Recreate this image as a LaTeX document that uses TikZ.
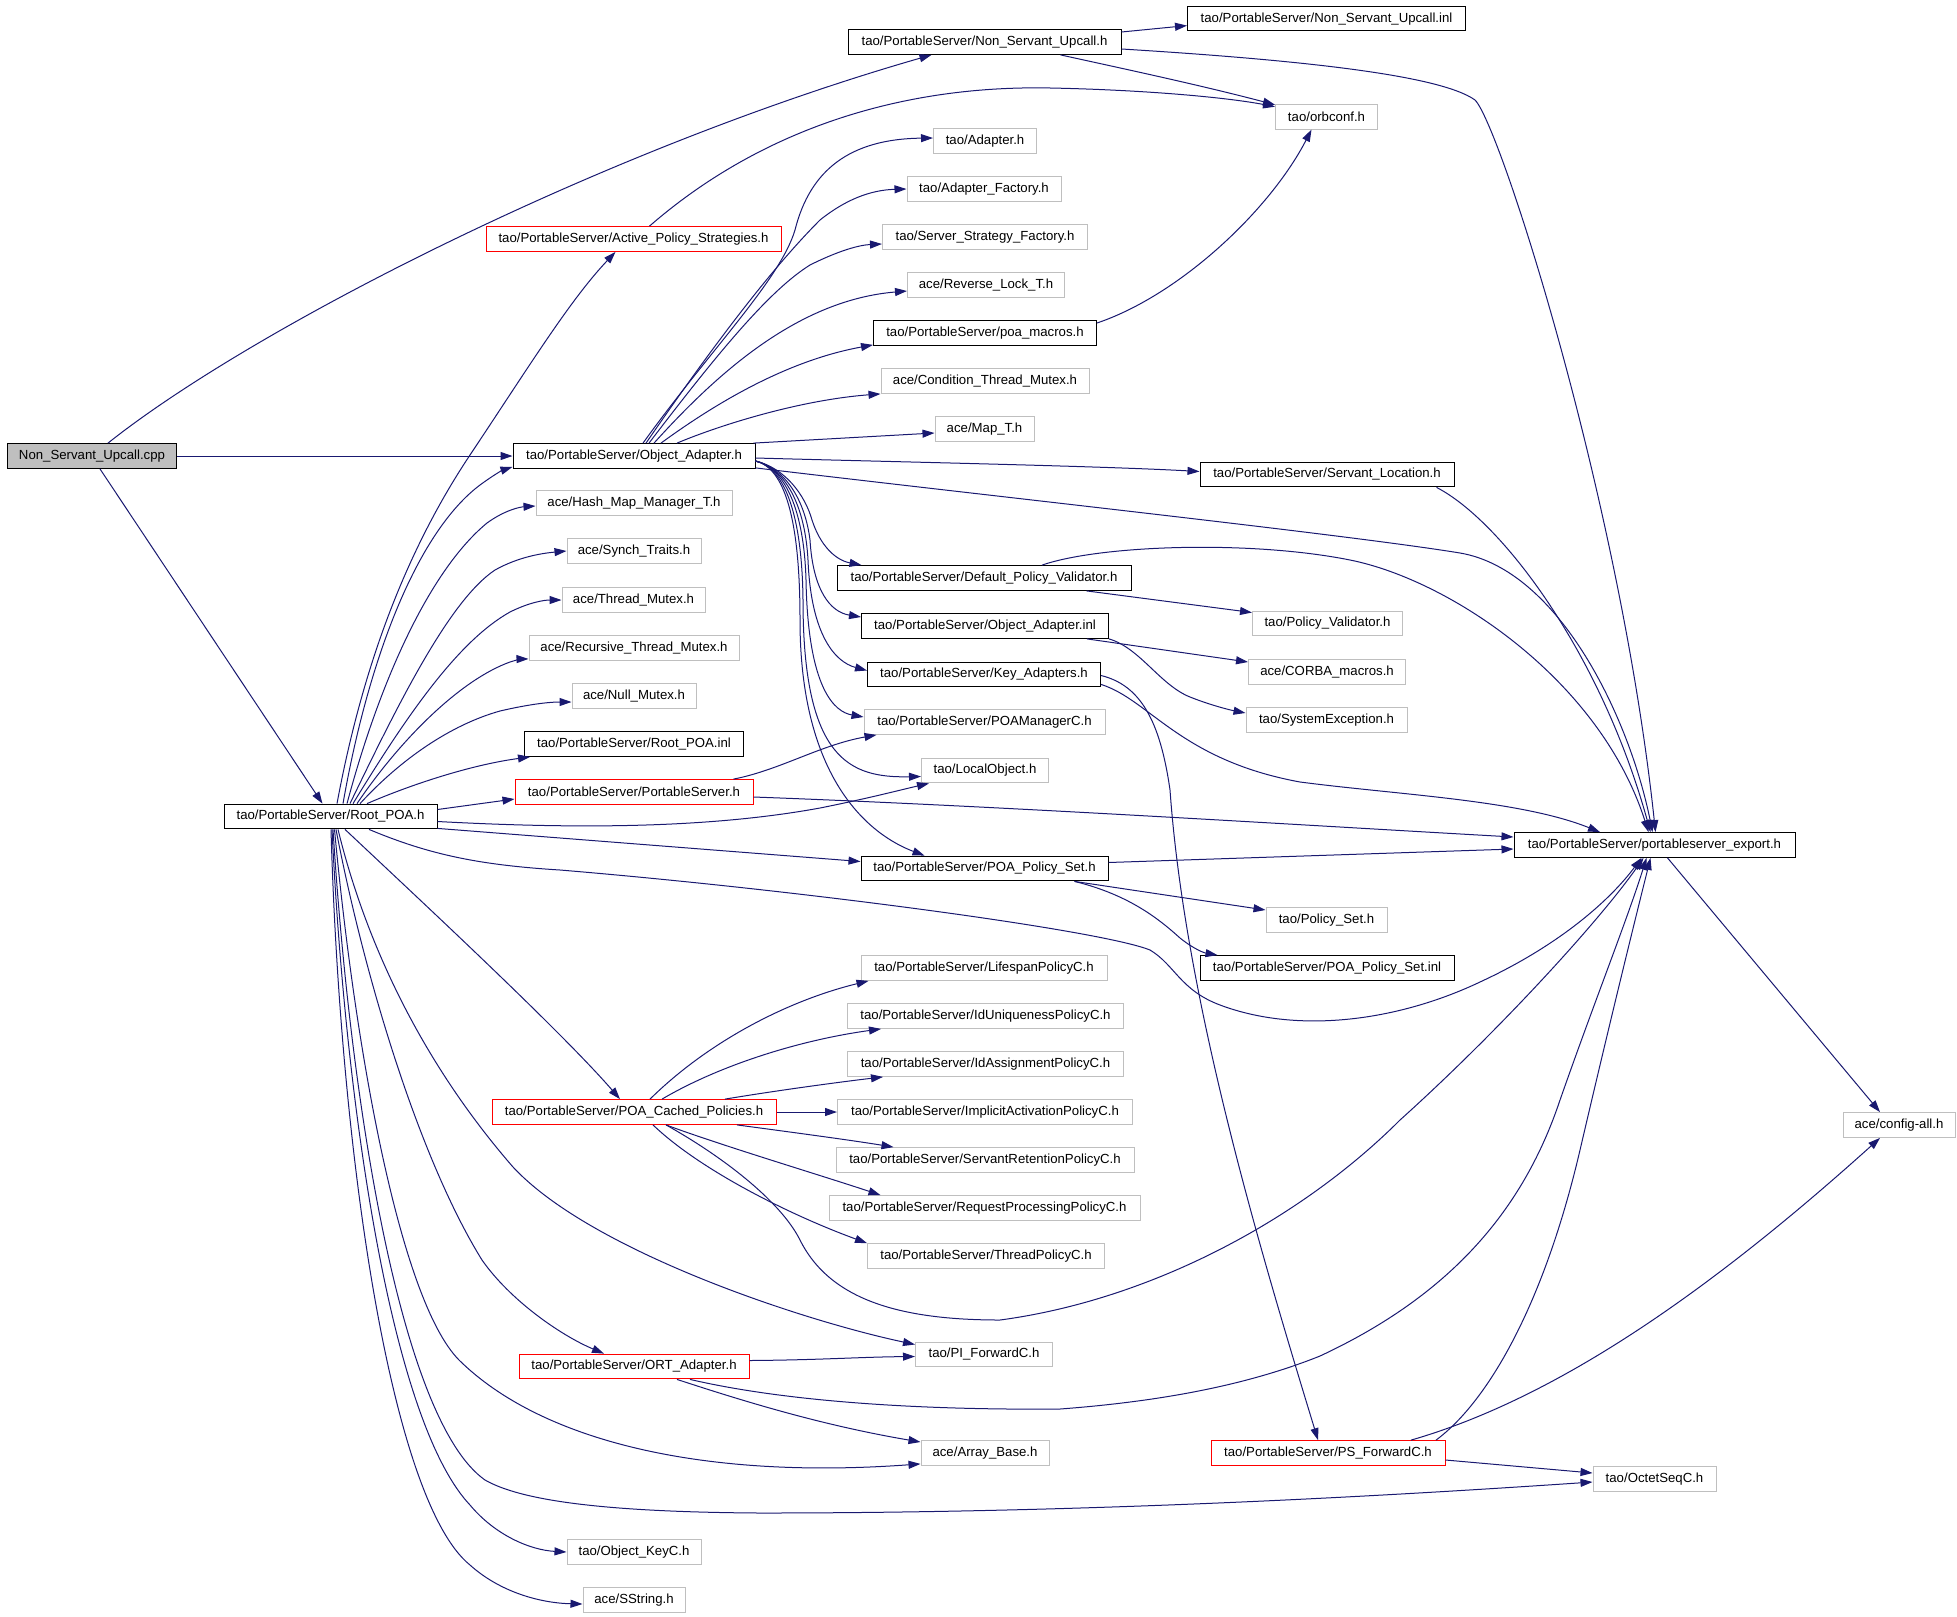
\documentclass[tikz,border=0pt]{standalone}
\usepackage{fontspec}
\setmainfont{Liberation Sans}
\usetikzlibrary{arrows.meta,calc}
\definecolor{edgec}{HTML}{191970}
\definecolor{gry}{HTML}{BFBFBF}
\tikzset{
  nd/.style={rectangle, draw, line width=0.5pt, inner sep=0pt, minimum height=12.4pt, font=\fontsize{6.6}{8}\selectfont, text=black},
  bw/.style={minimum width=#1*0.5pt},
  nb/.style={nd, draw=black},
  ng/.style={nd, draw=gry},
  nr/.style={nd, draw=red},
  ed/.style={draw=edgec, line width=0.5pt, -{Triangle[length=6pt,width=4pt]}},
}
\begin{document}
\begin{tikzpicture}[x=0.5pt,y=-0.5pt]
\useasboundingbox (0,0) rectangle (1957,1616);
% nodes
\node[nb,bw=169,fill=gry] (cpp) at (92,456) {Non\_Servant\_Upcall.cpp};
\node[nb,bw=273] (nsuh) at (984.5,42) {tao/PortableServer/Non\_Servant\_Upcall.h};
\node[nb,bw=278] (nsuinl) at (1326.5,18.6) {tao/PortableServer/Non\_Servant\_Upcall.inl};
\node[ng,bw=102] (orbconf) at (1326.5,116.7) {tao/orbconf.h};
\node[nr,bw=295] (aps) at (633.5,239) {tao/PortableServer/Active\_Policy\_Strategies.h};
\node[ng,bw=103] (adapter) at (985,141) {tao/Adapter.h};
\node[ng,bw=154] (adfac) at (984,189) {tao/Adapter\_Factory.h};
\node[ng,bw=205] (ssf) at (985,237) {tao/Server\_Strategy\_Factory.h};
\node[ng,bw=157] (rlock) at (986,285) {ace/Reverse\_Lock\_T.h};
\node[nb,bw=223] (poamac) at (985,333) {tao/PortableServer/poa\_macros.h};
\node[ng,bw=208] (ctm) at (985,381) {ace/Condition\_Thread\_Mutex.h};
\node[ng,bw=99] (mapt) at (984.5,429) {ace/Map\_T.h};
\node[nb,bw=242] (oa) at (634,456) {tao/PortableServer/Object\_Adapter.h};
\node[nb,bw=254] (sloc) at (1327,474.5) {tao/PortableServer/Servant\_Location.h};
\node[ng,bw=196] (hmm) at (634,503) {ace/Hash\_Map\_Manager\_T.h};
\node[ng,bw=134] (synch) at (634,551) {ace/Synch\_Traits.h};
\node[ng,bw=143] (tmx) at (633.5,600) {ace/Thread\_Mutex.h};
\node[ng,bw=210] (rtm) at (634,648) {ace/Recursive\_Thread\_Mutex.h};
\node[ng,bw=124] (nmx) at (634,696) {ace/Null\_Mutex.h};
\node[nb,bw=219] (rpinl) at (634,744) {tao/PortableServer/Root\_POA.inl};
\node[nr,bw=238] (psh) at (634,792) {tao/PortableServer/PortableServer.h};
\node[nb,bw=213] (rpoa) at (330.5,816.5) {tao/PortableServer/Root\_POA.h};
\node[nb,bw=294] (dpv) at (984,578) {tao/PortableServer/Default\_Policy\_Validator.h};
\node[ng,bw=150] (pv) at (1327.5,623.5) {tao/Policy\_Validator.h};
\node[nb,bw=247] (oainl) at (985,626) {tao/PortableServer/Object\_Adapter.inl};
\node[ng,bw=157] (corba) at (1327,672) {ace/CORBA\_macros.h};
\node[nb,bw=233] (keyad) at (984,674.5) {tao/PortableServer/Key\_Adapters.h};
\node[ng,bw=161] (sysex) at (1326.5,720) {tao/SystemException.h};
\node[ng,bw=241] (poamgr) at (984.5,722) {tao/PortableServer/POAManagerC.h};
\node[ng,bw=127] (lobj) at (985,770.5) {tao/LocalObject.h};
\node[nb,bw=281] (export) at (1654.5,845) {tao/PortableServer/portableserver\_export.h};
\node[nb,bw=247] (pps) at (984.5,868.5) {tao/PortableServer/POA\_Policy\_Set.h};
\node[ng,bw=121] (pset) at (1326.5,920) {tao/Policy\_Set.h};
\node[nb,bw=254] (ppsinl) at (1327,968) {tao/PortableServer/POA\_Policy\_Set.inl};
\node[ng,bw=246] (lifespan) at (984,968) {tao/PortableServer/LifespanPolicyC.h};
\node[ng,bw=276] (iduniq) at (985.5,1016) {tao/PortableServer/IdUniquenessPolicyC.h};
\node[ng,bw=276] (idassign) at (985.5,1064) {tao/PortableServer/IdAssignmentPolicyC.h};
\node[ng,bw=295] (implact) at (985,1112) {tao/PortableServer/ImplicitActivationPolicyC.h};
\node[ng,bw=298] (servret) at (985,1160) {tao/PortableServer/ServantRetentionPolicyC.h};
\node[ng,bw=311] (reqproc) at (984.5,1208) {tao/PortableServer/RequestProcessingPolicyC.h};
\node[ng,bw=237] (thread) at (986,1256) {tao/PortableServer/ThreadPolicyC.h};
\node[nr,bw=284] (pcp) at (634,1112) {tao/PortableServer/POA\_Cached\_Policies.h};
\node[ng,bw=112] (config) at (1899,1125) {ace/config-all.h};
\node[ng,bw=137] (pif) at (984,1354.5) {tao/PI\_ForwardC.h};
\node[nr,bw=230] (ort) at (634,1366.5) {tao/PortableServer/ORT\_Adapter.h};
\node[ng,bw=128] (array) at (985,1453) {ace/Array\_Base.h};
\node[nr,bw=234] (psfwd) at (1328,1453) {tao/PortableServer/PS\_ForwardC.h};
\node[ng,bw=123] (octet) at (1654.5,1479) {tao/OctetSeqC.h};
\node[ng,bw=134] (objkey) at (634,1552) {tao/Object\_KeyC.h};
\node[ng,bw=102] (sstring) at (634,1600) {ace/SString.h};
% cpp
\draw[ed] ($(cpp.north)+(16,0)$) .. controls (250,330) and (600,150) .. ($(nsuh.south)+(-53,0)$);
\draw[ed] (cpp.east) -- (oa.west);
\draw[ed] ($(cpp.south)+(8,0)$) -- ($(rpoa.north)+(-8,0)$);
% nsuh
\draw[ed] ($(nsuh.east)+(0,-10)$) -- ($(nsuinl.west)+(0,7)$);
\draw[ed] ($(nsuh.south)+(76,0)$) .. controls (1120,68) and (1200,85) .. ($(orbconf.north west)+(0,1)$);
\draw[ed] ($(nsuh.east)+(0,7)$) .. controls (1300,60) and (1440,75) .. (1475,100) .. controls (1500,125) and (1620,500) .. ($(export.north)+(1,0)$);
% aps
\draw[ed] ($(aps.north)+(16,0)$) .. controls (760,130) and (900,85) .. (1050,88) .. controls (1150,90) and (1230,98) .. ($(orbconf.west)+(0,-10)$);
% poa_macros
\draw[ed] ($(poamac.east)+(0,-10)$) .. controls (1180,295) and (1270,210) .. ($(orbconf.south)+(-15,0)$);
% Object_Adapter upward
\draw[ed] ($(oa.north)+(9,0)$) .. controls (710,350) and (780,280) .. (795,230) .. controls (810,170) and (850,139) .. ($(adapter.west)+(0,-3)$);
\draw[ed] ($(oa.north)+(12,0)$) .. controls (710,350) and (770,270) .. (820,220) .. controls (845,200) and (870,190) .. (adfac.west);
\draw[ed] ($(oa.north)+(15,0)$) .. controls (720,350) and (770,290) .. (810,265) .. controls (840,250) and (860,245) .. ($(ssf.west)+(0,7)$);
\draw[ed] ($(oa.north)+(20,0)$) .. controls (720,370) and (800,300) .. ($(rlock.west)+(0,6)$);
\draw[ed] ($(oa.north)+(27,0)$) .. controls (720,400) and (790,360) .. ($(poamac.south west)+(0,-1)$);
\draw[ed] ($(oa.north)+(43,0)$) .. controls (720,425) and (800,400) .. (ctm.south west);
\draw[ed] ($(oa.north east)+(-2,0)$) -- ($(mapt.west)+(0,4)$);
% Object_Adapter right
\draw[ed] ($(oa.east)+(0,2)$) .. controls (900,462) and (1100,466) .. ($(sloc.west)+(0,-3)$);
\draw[ed] ($(oa.south east)+(0,-1)$) .. controls (1000,497) and (1350,535) .. (1460,553) .. controls (1560,570) and (1630,720) .. ($(export.north)+(-2,0)$);
\draw[ed] ($(oa.east)+(0,5)$) .. controls (785,468) and (805,495) .. (812,520) .. controls (820,545) and (835,560) .. ($(dpv.north west)+(25,0)$);
\draw[ed] ($(oa.east)+(0,5)$) .. controls (785,468) and (805,500) .. (810,540) .. controls (813,590) and (830,612) .. ($(oainl.west)+(0,-9)$);
\draw[ed] ($(oa.east)+(0,5)$) .. controls (785,468) and (805,505) .. (808,560) .. controls (811,635) and (835,662) .. ($(keyad.west)+(0,-4)$);
\draw[ed] ($(oa.east)+(0,5)$) .. controls (785,468) and (804,510) .. (806,580) .. controls (808,690) and (835,712) .. ($(poamgr.west)+(0,-5)$);
\draw[ed] ($(oa.east)+(0,5)$) .. controls (785,468) and (802,515) .. (803,600) .. controls (803,760) and (850,778) .. ($(lobj.west)+(0,6)$);
\draw[ed] ($(oa.east)+(0,5)$) .. controls (785,468) and (800,520) .. (800,620) .. controls (800,780) and (870,835) .. ($(pps.north west)+(64,0)$);
% PortableServer.h
\draw[ed] ($(psh.north east)+(-20,0)$) .. controls (780,770) and (820,745) .. ($(poamgr.south west)+(13,0)$);
\draw[ed] ($(psh.east)+(0,5)$) .. controls (1000,806) and (1300,825) .. ($(export.west)+(0,-8)$);
% Root_POA right
\draw[ed] ($(rpoa.east)+(0,-7)$) -- ($(psh.west)+(0,7)$);
\draw[ed] ($(rpoa.east)+(0,5)$) .. controls (560,828) and (700,830) .. (820,808) .. controls (870,798) and (900,790) .. ($(lobj.south west)+(8,0)$);
\draw[ed] ($(rpoa.south east)+(0,-1)$) -- ($(pps.west)+(0,-7)$);
\draw[ed] ($(rpoa.south)+(38.5,0)$) .. controls (430,855) and (480,865) .. (560,870) .. controls (800,890) and (1100,930) .. (1150,950) .. controls (1175,965) and (1180,990) .. (1220,1005) .. controls (1300,1035) and (1400,1020) .. (1480,982) .. controls (1560,945) and (1610,900) .. ($(export.south)+(-13,0)$);
% Root_POA upward
\draw[ed] ($(rpoa.north)+(6.5,0)$) .. controls (360,680) and (400,560) .. (470,455) .. controls (530,365) and (570,300) .. ($(aps.south)+(-18,0)$);
\draw[ed] ($(rpoa.north)+(12.5,0)$) .. controls (370,650) and (420,530) .. (480,485) .. controls (495,474) and (503,470) .. ($(oa.south west)+(0,-2)$);
\draw[ed] ($(rpoa.north)+(16.5,0)$) .. controls (380,680) and (430,570) .. (487,523) .. controls (505,510) and (520,507) .. ($(hmm.west)+(0,3)$);
\draw[ed] ($(rpoa.north)+(19.5,0)$) .. controls (400,700) and (450,600) .. (495,570) .. controls (520,556) and (545,553) .. (synch.west);
\draw[ed] ($(rpoa.north)+(22.5,0)$) .. controls (410,710) and (460,640) .. (510,612) .. controls (530,602) and (545,600) .. (tmx.west);
\draw[ed] ($(rpoa.north)+(26.5,0)$) .. controls (400,740) and (460,680) .. (510,662) .. controls (516,660) and (522,659) .. ($(rtm.south west)+(0,-2)$);
\draw[ed] ($(rpoa.north)+(29.5,0)$) .. controls (400,760) and (450,725) .. (500,711) .. controls (530,704) and (550,702) .. ($(nmx.west)+(0,6)$);
\draw[ed] ($(rpoa.north)+(36.5,0)$) .. controls (410,785) and (470,765) .. ($(rpinl.south west)+(6,0)$);
% Root_POA downward
\draw[ed] ($(rpoa.south)+(14.5,0)$) .. controls (420,900) and (560,1030) .. ($(pcp.north)+(-14,0)$);
\draw[ed] ($(rpoa.south)+(7.5,0)$) .. controls (365,940) and (420,1060) .. (513,1167) .. controls (590,1250) and (800,1320) .. ($(pif.west)+(0,-10)$);
\draw[ed] ($(rpoa.south)+(5.5,0)$) .. controls (365,980) and (420,1160) .. (482,1260) .. controls (510,1300) and (560,1335) .. ($(ort.north)+(-30,0)$);
\draw[ed] ($(rpoa.south)+(4,0)$) .. controls (355,1050) and (400,1300) .. (459,1360) .. controls (540,1440) and (700,1480) .. ($(array.south west)+(0,-2)$);
\draw[ed] ($(rpoa.south)+(2.5,0)$) .. controls (350,1100) and (400,1420) .. (485,1480) .. controls (520,1500) and (600,1512) .. (760,1513) .. controls (1100,1513) and (1400,1495) .. ($(octet.west)+(0,3)$);
\draw[ed] ($(rpoa.south)+(1.5,0)$) .. controls (345,1100) and (390,1420) .. (470,1505) .. controls (495,1535) and (530,1550) .. (objkey.west);
\draw[ed] ($(rpoa.south)+(0.5,0)$) .. controls (340,1150) and (390,1500) .. (470,1565) .. controls (500,1592) and (540,1603) .. ($(sstring.west)+(0,4)$);
% Default_Policy_Validator
\draw[ed] ($(dpv.north)+(58,0)$) .. controls (1100,545) and (1250,540) .. (1350,560) .. controls (1450,580) and (1600,680) .. ($(export.north)+(-6,0)$);
\draw[ed] ($(dpv.south east)+(-45,0)$) -- ($(pv.west)+(0,-11)$);
% Object_Adapter.inl
\draw[ed] ($(oainl.south east)+(-22,0)$) -- ($(corba.west)+(0,-10)$);
\draw[ed] (oainl.south east) .. controls (1140,648) and (1160,685) .. (1190,697) .. controls (1210,705) and (1230,710) .. ($(sysex.west)+(0,-7)$);
% Key_Adapters
\draw[ed] ($(keyad.east)+(0,1)$) .. controls (1140,685) and (1160,720) .. (1170,790) .. controls (1185,1000) and (1260,1250) .. ($(psfwd.north)+(-10,0)$);
\draw[ed] ($(keyad.south east)+(0,-3)$) .. controls (1150,700) and (1180,760) .. (1300,782) .. controls (1400,795) and (1520,800) .. ($(export.north)+(-54.5,0)$);
% Servant_Location
\draw[ed] ($(sloc.south east)+(-18,0)$) .. controls (1500,520) and (1600,650) .. ($(export.north)+(-4,0)$);
% POA_Policy_Set
\draw[ed] ($(pps.east)+(0,-6)$) -- ($(export.west)+(0,4)$);
\draw[ed] ($(pps.south east)+(-34,0)$) -- ($(pset.west)+(0,-10)$);
\draw[ed] ($(pps.south east)+(-34,0)$) .. controls (1130,895) and (1160,920) .. (1180,938) .. controls (1195,950) and (1205,953) .. ($(ppsinl.north west)+(18,0)$);
% POA_Cached_Policies
\draw[ed] ($(pcp.north)+(16,0)$) .. controls (710,1040) and (790,1000) .. ($(lifespan.south west)+(8,0)$);
\draw[ed] ($(pcp.north)+(28,0)$) .. controls (720,1065) and (800,1040) .. ($(iduniq.south west)+(34,0)$);
\draw[ed] ($(pcp.north)+(91,0)$) .. controls (780,1090) and (840,1082) .. ($(idassign.south west)+(36,0)$);
\draw[ed] (pcp.east) -- (implact.west);
\draw[ed] ($(pcp.south)+(103,0)$) .. controls (790,1132) and (850,1140) .. ($(servret.north west)+(58,0)$);
\draw[ed] ($(pcp.south)+(32,0)$) .. controls (720,1145) and (820,1175) .. ($(reqproc.north west)+(52,0)$);
\draw[ed] ($(pcp.south)+(19,0)$) .. controls (700,1170) and (790,1215) .. (thread.north west);
\draw[ed] ($(pcp.south)+(32,0)$) .. controls (720,1155) and (780,1200) .. (800,1240) .. controls (830,1300) and (900,1320) .. (1000,1320) .. controls (1150,1300) and (1300,1220) .. (1400,1120) .. controls (1500,1030) and (1600,920) .. ($(export.south)+(-11,0)$);
% ORT_Adapter
\draw[ed] ($(ort.east)+(0,-6)$) .. controls (820,1360) and (860,1357) .. ($(pif.west)+(0,2)$);
\draw[ed] ($(ort.south)+(43,0)$) .. controls (740,1400) and (820,1425) .. ($(array.west)+(0,-11)$);
\draw[ed] ($(ort.south)+(56,0)$) .. controls (800,1405) and (950,1410) .. (1060,1409) .. controls (1180,1400) and (1260,1380) .. (1320,1356) .. controls (1440,1300) and (1520,1220) .. (1560,1100) .. controls (1595,1000) and (1627,920) .. ($(export.south)+(-8,0)$);
% PS_ForwardC
\draw[ed] ($(psfwd.north)+(108,0)$) .. controls (1490,1400) and (1545,1300) .. (1580,1150) .. controls (1615,1000) and (1640,900) .. ($(export.south)+(-4,0)$);
\draw[ed] ($(psfwd.north)+(83,0)$) .. controls (1550,1400) and (1700,1300) .. ($(config.south)+(-19,0)$);
\draw[ed] ($(psfwd.east)+(0,7)$) -- ($(octet.west)+(0,-6)$);
% portableserver_export
\draw[ed] ($(export.south)+(13,0)$) -- ($(config.north)+(-19,0)$);
\end{tikzpicture}
\end{document}
